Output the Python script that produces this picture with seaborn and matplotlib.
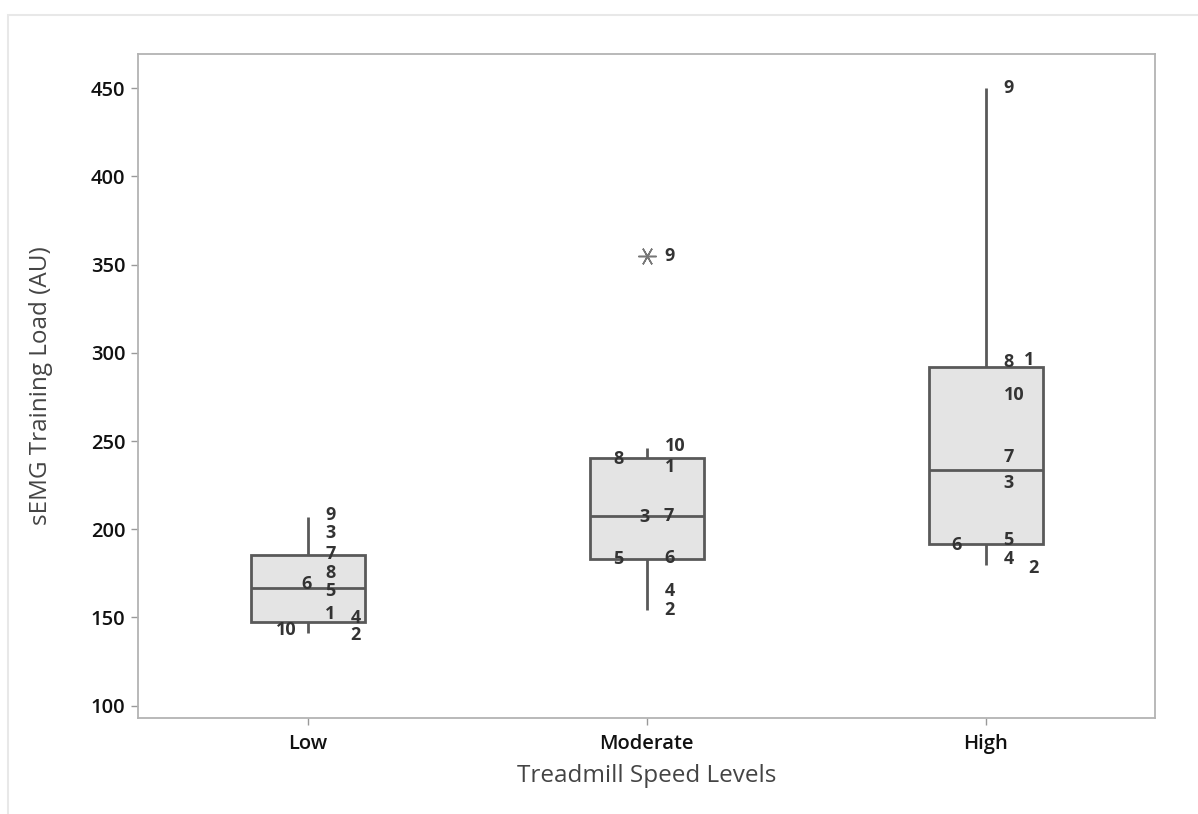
import numpy as np
import pandas as pd
import matplotlib
matplotlib.use("Agg")
import matplotlib.pyplot as plt
import seaborn as sns
from matplotlib.patches import Rectangle

# ---------------- data ----------------
levels = ["Low", "Moderate", "High"]
subjects = [1, 2, 3, 4, 5, 6, 7, 8, 9, 10]
low_load = [152, 141, 197, 146, 165, 169, 189, 175, 207, 143]
moderate_load = [238, 154, 207, 165, 183, 184, 207.5, 241, 355, 246]
high_load = [298, 180, 226, 183, 194, 191, 241, 297, 450, 276]
yticks = [100, 150, 200, 250, 300, 350, 400, 450]

# label offsets (pixels) per subject, for layout only (dx right, dy up)
label_dx = {
    "Low": [23, 48, 23, 48, 23, -1, 23, 23, 23, -21],
    "Moderate": [23, 23, -2, 23, -28, 23, 22, -28, 23, 29],
    "High": [43, 48, 23, 23, 23, -29, 23, 23, 23, 29],
}
label_dy = {
    "Low": [0, -2, 2, 7, 0, 0, -5, 0, 2, 0],
    "Moderate": [-5, 0, 0, 0, 0, 0, 0, -2, 0, 2],
    "High": [-4, -3, 0, 0, 0, 0, 0, -4, 0, 0],
}

loads = {"Low": low_load, "Moderate": moderate_load, "High": high_load}
df = pd.DataFrame({
    "speed": np.repeat(levels, len(subjects)),
    "subject": subjects * len(levels),
    "load": low_load + moderate_load + high_load,
})

# ---------------- style ----------------
sns.set_style("white")
plt.rcParams["font.family"] = ["Open Sans", "DejaVu Sans"]

W, H = 1198, 814
fig = plt.figure(figsize=(W / 100, H / 100), dpi=100)
fig.patch.set_facecolor("white")
ax = fig.add_axes([138 / W, 1 - 717.7 / H, (1155.3 - 138) / W, (717.7 - 54) / H])

box_edge = "#595959"
sns.boxplot(
    data=df, x="speed", y="load", order=levels, ax=ax,
    color="#e4e4e4", linecolor=box_edge, linewidth=2.0, width=0.336,
    showcaps=False, whis=1.75, saturation=1,
    flierprops=dict(marker=(6, 2, 30), markersize=13,
                    markeredgecolor="#777777", markeredgewidth=1.1,
                    markerfacecolor="none"),
)

for line in ax.lines:
    if line.get_linestyle() in ("None", "none", "") and len(line.get_xdata()) > 0:
        line.set_marker((6, 2, 30))
        line.set_markeredgecolor("#777777")
        line.set_markeredgewidth(1.1)
        line.set_markersize(13)

# subject labels
for i, lvl in enumerate(levels):
    for subj, val, dx, dy in zip(subjects, loads[lvl], label_dx[lvl], label_dy[lvl]):
        ax.annotate(str(subj), xy=(i, val), xytext=(dx * 0.72, dy * 0.72),
                    textcoords="offset points", ha="center", va="center",
                    fontsize=13, fontweight="bold", color="#333333")

ax.set_xlim(-0.5, 2.5)
ax.set_ylim(93.2, 469.4)
ax.set_yticks(yticks)
ax.set_yticklabels([str(t) for t in yticks])

for sp in ax.spines.values():
    sp.set_visible(True)
    sp.set_color("#b3b3b3")
    sp.set_linewidth(1.3)

ax.tick_params(axis="both", which="major", direction="out", length=5,
               width=1, color="#999999", labelsize=14.5, labelcolor="#111111",
               left=True, bottom=True, pad=4)
ax.tick_params(axis="x", pad=7)
for lab in ax.get_xticklabels() + ax.get_yticklabels():
    lab.set_fontweight("semibold")

ax.set_xlabel("Treadmill Speed Levels", fontsize=17.5, color="#444444")
ax.set_ylabel("sEMG Training Load (AU)", fontsize=17.5, color="#444444")
ax.xaxis.set_label_coords(0.5, -(776 - 717.7) / (717.7 - 54))
ax.yaxis.set_label_coords(-(138 - 41) / (1155.3 - 138), 0.5)
ax.xaxis.label.set_va("center")
ax.yaxis.label.set_va("center")

# outer light frame
fig.add_artist(Rectangle((8 / W, -0.1), 1.2, (1 - 15 / H) + 0.1,
                         transform=fig.transFigure, fill=False,
                         edgecolor="#e8e8e8", linewidth=1.5))

fig.savefig("out.png", dpi=100)
